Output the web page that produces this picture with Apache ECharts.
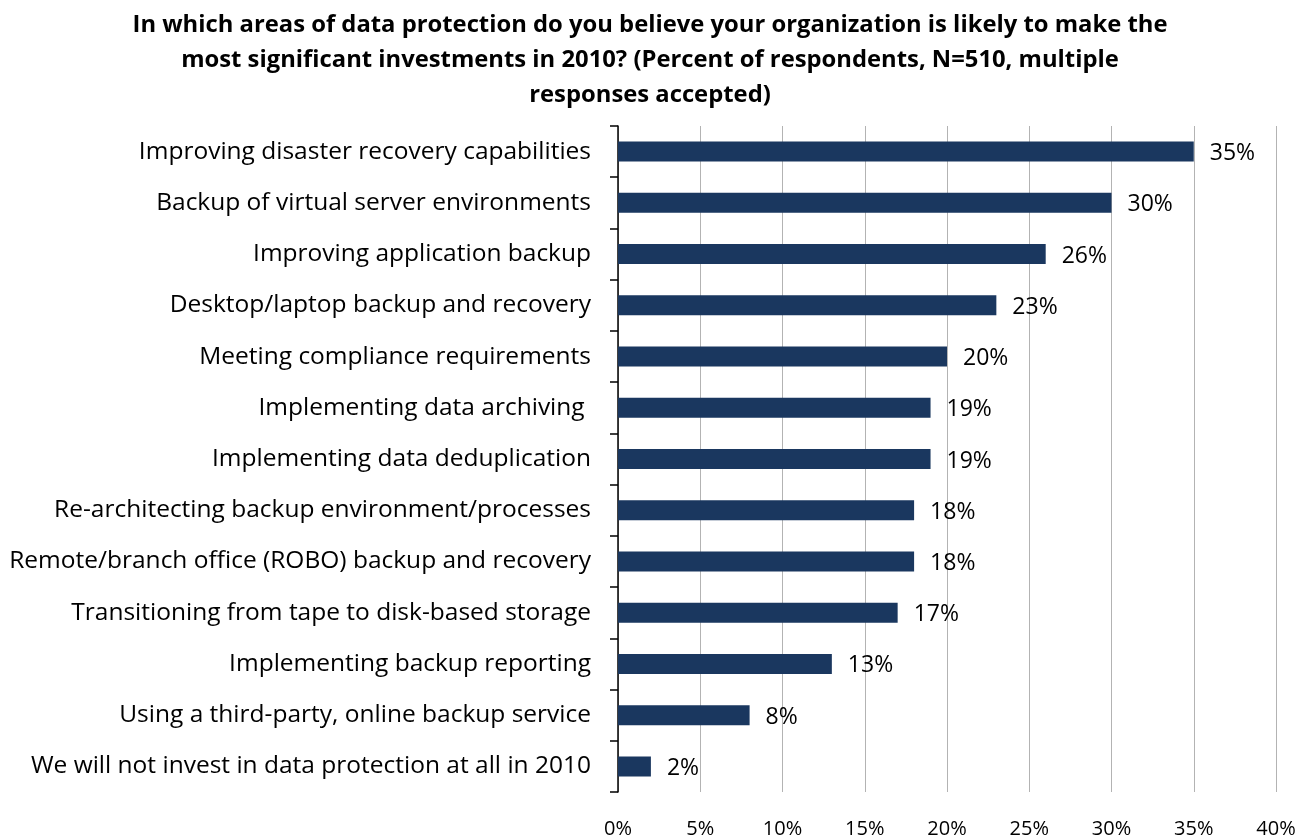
<!DOCTYPE html>
<html>
<head>
<meta charset="utf-8">
<script src="https://cdn.jsdelivr.net/npm/echarts@6/dist/echarts.min.js"></script>
<style>
  html, body { margin: 0; padding: 0; background: #fff; }
  #chart { width: 1304px; height: 839px; }
</style>
</head>
<body>
<div id="chart"></div>
<script>
// Survey answers, top to bottom
const categories = [
  'Improving disaster recovery capabilities',
  'Backup of virtual server environments',
  'Improving application backup',
  'Desktop/laptop backup and recovery',
  'Meeting compliance requirements',
  'Implementing data archiving ',
  'Implementing data deduplication',
  'Re-architecting backup environment/processes',
  'Remote/branch office (ROBO) backup and recovery',
  'Transitioning from tape to disk-based storage',
  'Implementing backup reporting',
  'Using a third-party, online backup service',
  'We will not invest in data protection at all in 2010'
];
// Percent of respondents
const percents = [35, 30, 26, 23, 20, 19, 19, 18, 18, 17, 13, 8, 2];

const titleLines = [
  'In which areas of data protection do you believe your organization is likely to make the',
  'most significant investments in 2010? (Percent of respondents, N=510, multiple',
  'responses accepted)'
];

const FONT = '"Open Sans", sans-serif';

const chart = echarts.init(document.getElementById('chart'));
chart.setOption({
  animation: false,
  backgroundColor: '#ffffff',
  title: {
    text: titleLines.join('\n'),
    left: 645,
    textAlign: 'center',
    top: 3,
    textStyle: {
      fontFamily: FONT,
      fontWeight: 'bold',
      fontSize: 23.8,
      lineHeight: 35,
      color: '#000'
    }
  },
  grid: {
    left: 618,
    right: 28,
    top: 126,
    height: 666,
    containLabel: false
  },
  xAxis: {
    type: 'value',
    min: 0,
    max: 40,
    interval: 5,
    axisLine: { show: false },
    axisTick: { show: false },
    splitLine: { show: true, lineStyle: { color: '#b3b3b3', width: 1 } },
    axisLabel: {
      formatter: v => v + '%',
      fontFamily: FONT,
      fontSize: 20,
      color: '#000',
      margin: 27
    }
  },
  yAxis: {
    type: 'category',
    data: categories,
    inverse: true,
    axisLine: { show: true, lineStyle: { color: '#000', width: 1.5 } },
    axisTick: { show: true, length: 8, lineStyle: { color: '#000', width: 1.5 } },
    axisLabel: {
      fontFamily: FONT,
      fontSize: 24.5,
      color: '#000',
      margin: 27,
      padding: [4, 0, 0, 0]
    }
  },
  series: [{
    type: 'bar',
    data: percents,
    barWidth: 20,
    itemStyle: { color: '#1a375f' },
    label: {
      show: true,
      position: 'right',
      distance: 16,
      offset: [0, 2],
      formatter: p => p.value + '%',
      fontFamily: FONT,
      fontSize: 23,
      color: '#000'
    }
  }]
});
</script>
</body>
</html>
